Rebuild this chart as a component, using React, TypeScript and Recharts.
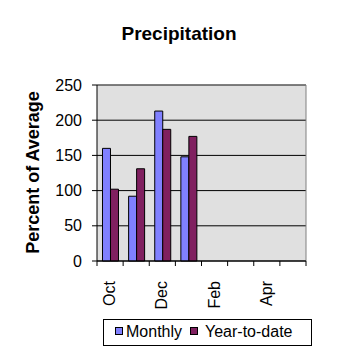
import React from 'react';
import { BarChart, Bar, XAxis, YAxis, CartesianGrid, ReferenceLine } from 'recharts';

const months = ['Oct', 'Nov', 'Dec', 'Jan', 'Feb', 'Mar', 'Apr', 'May'];
const monthly = [160, 92, 213, 148, null, null, null, null];
const yearToDate = [102, 131, 187, 177, null, null, null, null];
const yTicks = [0, 50, 100, 150, 200, 250];
const edgeTicks = [0, 1, 2, 3, 4, 5, 6, 7, 8];
const seriesNames = ['Monthly', 'Year-to-date'];
const seriesColors = ['#8080FF', '#802060'];
const title = 'Precipitation';
const yTitle = 'Percent of Average';

const data = months.map((m, i) => ({ month: m, idx: i, monthly: monthly[i], ytd: yearToDate[i] }));

const FONT = '"Liberation Sans", Arial, sans-serif';

const XTick = (props: any) => {
  const { x, y, payload, index } = props;
  if (index % 2 !== 0) return <g />;
  return (
    <text
      transform={`translate(${x + 5},${y + 11}) rotate(-90)`}
      textAnchor="end"
      fontSize={16}
      fontFamily={FONT}
      fill="#000"
    >
      {payload.value}
    </text>
  );
};

const EmptyTick = () => <g />;

export default function App() {
  return (
    <div style={{ position: 'absolute', left: 0, top: 0, width: 358, height: 358, background: '#fff' }}>
      <BarChart
        width={358}
        height={358}
        data={data}
        margin={{ top: 85, right: 52, bottom: 0, left: 0 }}
        barCategoryGap="21%"
        barGap={0}
      >
        <CartesianGrid xAxisId="cat" vertical={false} stroke="#000" fill="#E0E0E0" fillOpacity={1} />
        <XAxis
          xAxisId={0}
          type="number"
          dataKey="idx"
          domain={[0, 8]}
          ticks={edgeTicks}
          interval={0}
          allowDataOverflow
          height={1}
          tickSize={5}
          stroke="#000"
          axisLine={{ stroke: '#000' }}
          tickLine={{ stroke: '#000' }}
          tick={<EmptyTick />}
        />
        <XAxis
          xAxisId="cat"
          dataKey="month"
          height={96}
          interval={0}
          axisLine={false}
          tickLine={false}
          tick={<XTick />}
        />
        <YAxis
          width={97}
          domain={[0, 250]}
          ticks={yTicks}
          tickSize={5}
          tickMargin={10}
          axisLine={{ stroke: '#000' }}
          tickLine={{ stroke: '#000' }}
          tick={{ fill: '#000', fontSize: 16, fontFamily: FONT }}
        />
        <ReferenceLine y={250} xAxisId="cat" stroke="#808080" />
        <ReferenceLine x={8} xAxisId={0} stroke="#808080" />
        <Bar xAxisId="cat" dataKey="monthly" name={seriesNames[0]} fill={seriesColors[0]} stroke="#000" strokeWidth={1} isAnimationActive={false} />
        <Bar xAxisId="cat" dataKey="ytd" name={seriesNames[1]} fill={seriesColors[1]} stroke="#000" strokeWidth={1} isAnimationActive={false} />
      </BarChart>
      <svg width={358} height={358} style={{ position: 'absolute', left: 0, top: 0, pointerEvents: 'none' }}>
        <text x={179} y={40} textAnchor="middle" fontSize={19} fontWeight="bold" fontFamily={FONT} fill="#000">
          {title}
        </text>
        <text
          transform="translate(39,172.5) rotate(-90)"
          textAnchor="middle"
          fontSize={18}
          fontWeight="bold"
          fontFamily={FONT}
          fill="#000"
        >
          {yTitle}
        </text>
        <rect x={103.5} y={319.5} width={208} height={26} fill="#fff" stroke="#000" />
        <rect x={115.5} y={327.5} width={7} height={7} fill={seriesColors[0]} stroke="#000" />
        <text x={126} y={337} fontSize={16} fontFamily={FONT} fill="#000">{seriesNames[0]}</text>
        <rect x={190.5} y={327.5} width={7} height={7} fill={seriesColors[1]} stroke="#000" />
        <text x={205} y={337} fontSize={16} fontFamily={FONT} fill="#000">{seriesNames[1]}</text>
      </svg>
    </div>
  );
}
